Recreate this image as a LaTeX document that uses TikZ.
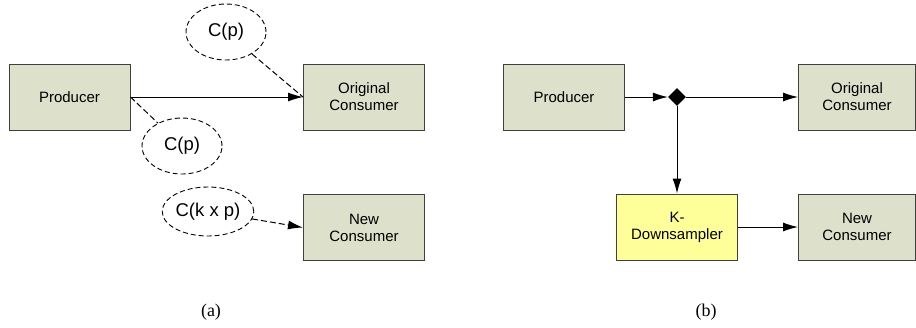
\documentclass[tikz,border=0pt]{standalone}
\usepackage{fontspec}
\setmainfont{Liberation Sans}
\newfontfamily\capfont{Liberation Serif}
\usetikzlibrary{arrows.meta,shapes.geometric}
\definecolor{boxfill}{HTML}{DDE0CA}
\definecolor{boxline}{HTML}{404040}
\definecolor{dsfill}{HTML}{FFFF99}
\tikzset{
  blk/.style={draw=boxline, line width=1pt, fill=boxfill, minimum width=121pt,
    minimum height=66pt, align=center, inner sep=0pt,
    font=\fontsize{15}{17}\selectfont},
  cost/.style={draw, ellipse, dashed, line width=0.9pt, dash pattern=on 5pt off 3pt,
    inner sep=0pt, font=\fontsize{18.5}{20}\selectfont},
  flow/.style={line width=1pt, -{Latex[length=15pt,width=9pt]}},
  link/.style={line width=1pt, dash pattern=on 6pt off 3pt},
  split/.style={diamond, fill=black, inner sep=0pt, minimum width=18pt, minimum height=18pt},
  subcaption/.style={font=\capfont\fontsize{18}{20}\selectfont}
}
\begin{document}
\begin{tikzpicture}[x=1pt,y=-1pt]
\useasboundingbox (0,0) rectangle (916,327);

% (a) original pipeline with cost annotations
\node[blk] (prodA) at (69.5,97) {Producer};
\node[blk] (origA) at (364,97) {Original\\Consumer};
\node[blk] (newA) at (364,227.5) {New\\Consumer};
\node[cost, minimum width=80pt, minimum height=56pt] (cA) at (226,32) {C(p)};
\node[cost, minimum width=80pt, minimum height=56pt] (cB) at (182,146) {C(p)};
\node[cost, minimum width=88pt, minimum height=49pt] (cK) at (208,211.5) {C(k x p)};

\draw[flow] (prodA) -- (origA);
\draw[link] (cA) -- (origA.west);
\draw[link] (prodA.east) -- (cB);
\draw[link, -{Latex[length=15pt,width=9pt]}] (cK) -- (newA.west);

% (b) pipeline with a K-downsampler branch
\node[blk] (prodB) at (564,97) {Producer};
\node[split] (fork) at (677,97) {};
\node[blk, minimum width=117pt] (origB) at (857,97) {Original\\Consumer};
\node[blk, fill=dsfill] (down) at (677,227) {K-\\Downsampler};
\node[blk, minimum width=117pt] (newB) at (857,227) {New\\Consumer};

\draw[flow] (prodB) -- (fork);
\draw[flow] (fork) -- (origB);
\draw[flow] (fork) -- (down);
\draw[flow] (down) -- (newB);

% captions
\node[subcaption] (capA) at (211,312) {(a)};
\node[subcaption] (capB) at (706,312) {(b)};
\end{tikzpicture}
\end{document}
